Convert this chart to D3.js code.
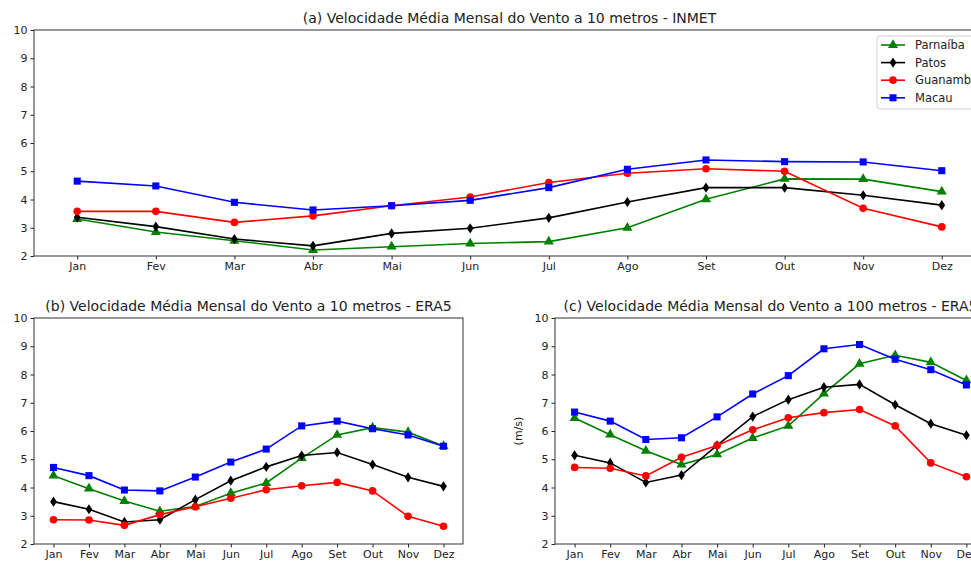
<!DOCTYPE html>
<meta charset="utf-8">
<head>
  <style>
    body {margin: 0; background: #ffffff;}
    text {font-family: "DejaVu Sans", sans-serif; fill: #222;}
  </style>
</head>
<body>
<script src="https://d3js.org/d3.v7.min.js"></script>
<script>

const months = ["Jan","Fev","Mar","Abr","Mai","Jun","Jul","Ago","Set","Out","Nov","Dez"];
const stations = ["Parnaíba","Patos","Guanambi","Macau"];
const yTicks = [2,3,4,5,6,7,8,9,10];

// (a) INMET 10 m
const inmetParnaiba = [3.31,2.85,2.54,2.21,2.33,2.44,2.51,3.00,4.01,4.73,4.72,4.28];
const inmetPatos    = [3.37,3.04,2.60,2.36,2.80,2.98,3.35,3.91,4.42,4.42,4.15,3.80];
const inmetGuanambi = [3.58,3.58,3.19,3.42,3.78,4.09,4.60,4.93,5.09,5.00,3.69,3.03];
const inmetMacau    = [4.65,4.48,3.90,3.63,3.78,3.97,4.42,5.07,5.40,5.34,5.33,5.02];

// (b) ERA5 10 m
const era10Parnaiba = [4.42,3.96,3.52,3.16,3.33,3.80,4.16,5.04,5.86,6.12,5.96,5.47];
const era10Patos    = [3.50,3.23,2.78,2.86,3.57,4.24,4.73,5.13,5.24,4.81,4.36,4.04];
const era10Guanambi = [2.86,2.85,2.66,3.04,3.32,3.62,3.92,4.06,4.18,3.88,2.98,2.63];
const era10Macau    = [4.71,4.42,3.91,3.88,4.37,4.90,5.36,6.18,6.35,6.08,5.86,5.46];

// (c) ERA5 100 m
const era100Parnaiba = [6.46,5.87,5.30,4.81,5.17,5.75,6.18,7.32,8.38,8.68,8.43,7.79];
const era100Patos    = [5.14,4.87,4.18,4.44,5.49,6.51,7.11,7.55,7.65,6.93,6.26,5.85];
const era100Guanambi = [4.71,4.68,4.41,5.07,5.49,6.04,6.47,6.65,6.76,6.18,4.87,4.38];
const era100Macau    = [6.67,6.35,5.70,5.76,6.50,7.31,7.96,8.91,9.06,8.54,8.17,7.63];

const colors = ["green","black","red","blue"];
const markers = [d3.symbolTriangle, d3.symbolDiamond, d3.symbolCircle, d3.symbolSquare];
const markerSizes = [44, 30, 46, 50];

const svg = d3.select("body").append("svg")
  .attr("width", 971)
  .attr("height", 563);

function marker(g, i, x, y) {
  let sym = d3.symbol().type(markers[i]).size(markerSizes[i]);
  let p = g.append("path")
    .attr("d", sym())
    .attr("fill", colors[i]);
  if (i == 1) p.attr("transform", "translate(" + x + "," + y + ") scale(1.15,1)");
  else p.attr("transform", "translate(" + x + "," + y + ")");
}

function drawPanel(left, right, top, bottom, title, series, ylabel) {
  let g = svg.append("g");

  let x = d3.scalePoint().domain(months).range([left, right]).padding(0.55);
  let y = d3.scaleLinear().domain([2, 10]).range([bottom, top]);

  // ticks
  g.append("g")
    .attr("transform", "translate(0," + bottom + ")")
    .call(d3.axisBottom(x).tickSize(3.5).tickPadding(3))
    .call(a => a.select(".domain").remove())
    .call(a => a.selectAll("line").attr("stroke", "#222"))
    .call(a => a.selectAll("text").attr("font-size", 11).attr("fill", "#222"));

  g.append("g")
    .attr("transform", "translate(" + left + ",0)")
    .call(d3.axisLeft(y).tickValues(yTicks).tickFormat(d3.format("d")).tickSize(3.5).tickPadding(3))
    .call(a => a.select(".domain").remove())
    .call(a => a.selectAll("line").attr("stroke", "#222"))
    .call(a => a.selectAll("text").attr("font-size", 11).attr("fill", "#222"));

  let line = d3.line().x((d, i) => x(months[i])).y(d => y(d));

  series.forEach((s, i) => {
    g.append("path")
      .attr("d", line(s))
      .attr("fill", "none")
      .attr("stroke", colors[i])
      .attr("stroke-width", 1.6);
    s.forEach((v, j) => marker(g, i, x(months[j]), y(v)));
  });

  g.append("rect")
    .attr("x", left).attr("y", top)
    .attr("width", right - left).attr("height", bottom - top)
    .attr("fill", "none").attr("stroke", "#333").attr("stroke-width", 1);

  g.append("text")
    .attr("x", (left + right) / 2)
    .attr("y", top - 7)
    .attr("text-anchor", "middle")
    .attr("font-size", 14)
    .text(title);

  if (ylabel) {
    g.append("text")
      .attr("transform", "translate(" + (left - 33) + "," + ((top + bottom) / 2) + ") rotate(-90)")
      .attr("text-anchor", "middle")
      .attr("font-size", 11)
      .text(ylabel);
  }
  return g;
}

drawPanel(34, 985, 30, 256,
  "(a) Velocidade Média Mensal do Vento a 10 metros - INMET",
  [inmetParnaiba, inmetPatos, inmetGuanambi, inmetMacau]);

drawPanel(34, 463, 318, 544,
  "(b) Velocidade Média Mensal do Vento a 10 metros - ERA5",
  [era10Parnaiba, era10Patos, era10Guanambi, era10Macau]);

drawPanel(555, 986, 318, 544,
  "(c) Velocidade Média Mensal do Vento a 100 metros - ERA5",
  [era100Parnaiba, era100Patos, era100Guanambi, era100Macau], "(m/s)");

// legend
let leg = svg.append("g").attr("transform", "translate(877,36)");
leg.append("rect")
  .attr("width", 120).attr("height", 73)
  .attr("rx", 3)
  .attr("fill", "white").attr("fill-opacity", 0.8)
  .attr("stroke", "#d0d0d0");
stations.forEach((name, i) => {
  let yy = 9 + i * 17.6;
  leg.append("line")
    .attr("x1", 4).attr("x2", 28)
    .attr("y1", yy).attr("y2", yy)
    .attr("stroke", colors[i]).attr("stroke-width", 1.6);
  marker(leg, i, 16, yy);
  leg.append("text")
    .attr("x", 38).attr("y", yy)
    .attr("dy", "0.35em")
    .attr("font-size", 11.5)
    .text(name);
});

</script>
</body>
</html>
